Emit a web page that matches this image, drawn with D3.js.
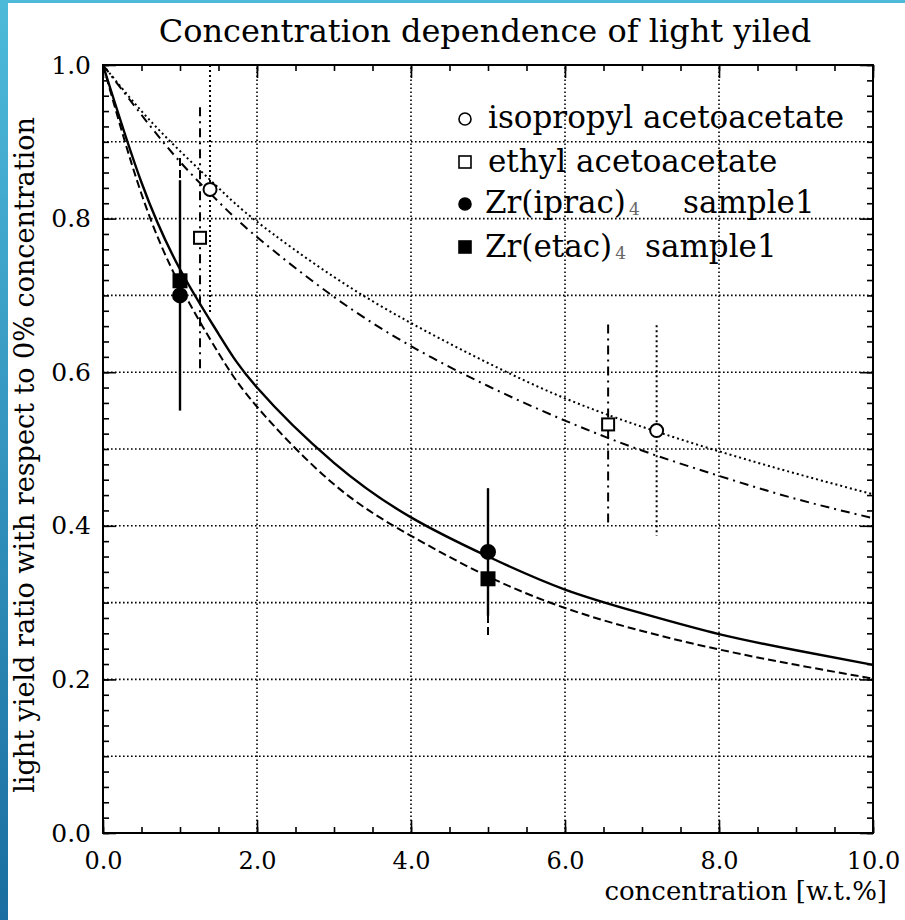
<!DOCTYPE html>
<html>
<head>
<meta charset="utf-8">
<script src="https://cdn.jsdelivr.net/npm/d3@7"></script>
<style>
  body { margin: 0; background: #ffffff; }
  svg { display: block; }
</style>
</head>
<body>
<div id="chart"></div>
<script>
// Concentration dependence of light yield - fitted curves + measured points

// curve samples (x in w.t.%)
const curveX     = [0, 0.5, 1, 1.5, 2, 3, 4, 5, 6, 7, 8, 9, 10];
const isoCurve   = [1.0, 0.94, 0.888, 0.84, 0.796, 0.724, 0.664, 0.612, 0.566, 0.529, 0.497, 0.468, 0.441];
const ethylCurve = [1.0, 0.935, 0.874, 0.822, 0.776, 0.698, 0.634, 0.582, 0.537, 0.498, 0.465, 0.435, 0.41];
const ipracCurve = [1.0, 0.847, 0.734, 0.65, 0.58, 0.482, 0.411, 0.36, 0.317, 0.286, 0.259, 0.238, 0.219];
const etacCurve  = [1.0, 0.832, 0.713, 0.625, 0.555, 0.454, 0.387, 0.334, 0.293, 0.263, 0.239, 0.219, 0.201];

// measured points and their error half-widths
const isoX   = [1.39, 7.19], isoY   = [0.838, 0.524], isoErr   = [0.162, 0.137];
const ethylX = [1.26, 6.56], ethylY = [0.775, 0.532], ethylErr = [0.17, 0.13];
const ipracX = [1.0, 5.0],   ipracY = [0.70, 0.366],  ipracErr = [0.15, 0.083];
const etacX  = [1.0, 5.0],   etacY  = [0.719, 0.331], etacErr  = [0.16, 0.078];

const seriesNames = ["isopropyl acetoacetate", "ethyl acetoacetate", "Zr(iprac)", "Zr(etac)"];

const xTickValues = [0, 2, 4, 6, 8, 10];
const xTickLabels = ["0.0", "2.0", "4.0", "6.0", "8.0", "10.0"];
const yTickValues = [0, 0.2, 0.4, 0.6, 0.8, 1.0];
const yTickLabels = ["0.0", "0.2", "0.4", "0.6", "0.8", "1.0"];

const W = 905, H = 920;
const margin = {top: 65, right: 32, bottom: 87, left: 103};
const serif = "'DejaVu Serif', 'Liberation Serif', serif";

const svg = d3.select("#chart").append("svg")
    .attr("width", W)
    .attr("height", H)
    .style("background-color", "#ffffff");

// slide frame (blue strip on the left and top)
const defs = svg.append("defs");
const grad = defs.append("linearGradient")
    .attr("id", "frameGrad")
    .attr("x1", 0).attr("y1", 0).attr("x2", 0).attr("y2", 1);
grad.append("stop").attr("offset", "0%").attr("stop-color", "#4dbada");
grad.append("stop").attr("offset", "100%").attr("stop-color", "#1a6ea1");
svg.append("rect").attr("x", 0).attr("y", 0).attr("width", W).attr("height", 3).attr("fill", "#4dbada");
svg.append("rect").attr("x", 0).attr("y", 0).attr("width", 8).attr("height", H).attr("fill", "url(#frameGrad)");

const x = d3.scaleLinear()
    .domain([0, 10])
    .range([margin.left, W - margin.right]);
const y = d3.scaleLinear()
    .domain([0, 1])
    .range([H - margin.bottom, margin.top]);

// dotted grid
const grid = svg.append("g").attr("id", "grid")
    .attr("stroke", "#000")
    .attr("stroke-width", 1.6)
    .attr("stroke-dasharray", "1.6,2.4");
grid.selectAll(".gx")
    .data([2, 4, 6, 8])
    .enter().append("line")
    .attr("x1", d => x(d)).attr("x2", d => x(d))
    .attr("y1", y(0)).attr("y2", y(1));
grid.selectAll(".gy")
    .data(d3.range(1, 10).map(i => i / 10))
    .enter().append("line")
    .attr("x1", x(0)).attr("x2", x(10))
    .attr("y1", d => y(d)).attr("y2", d => y(d));

// inward ticks on all four sides
const xMinor = d3.range(0, 21).map(i => i * 0.5);
const yMinor = d3.range(0, 51).map(i => i * 0.02);
function tickAxis(axis, values, size, tf) {
    const g = svg.append("g")
        .attr("transform", tf)
        .call(axis.tickValues(values).tickSize(size).tickFormat(""));
    g.select(".domain").remove();
    g.selectAll(".tick line").attr("stroke", "#000").attr("stroke-width", 1.6);
    return g;
}
tickAxis(d3.axisBottom(x), xMinor, -6, `translate(0,${y(0)})`);
tickAxis(d3.axisTop(x), xMinor, -6, `translate(0,${y(1)})`);
tickAxis(d3.axisBottom(x), xTickValues, -13, `translate(0,${y(0)})`);
tickAxis(d3.axisTop(x), xTickValues, -13, `translate(0,${y(1)})`);
tickAxis(d3.axisLeft(y), yMinor, -6, `translate(${x(0)},0)`);
tickAxis(d3.axisRight(y), yMinor, -6, `translate(${x(10)},0)`);
tickAxis(d3.axisLeft(y), yTickValues, -13, `translate(${x(0)},0)`);
tickAxis(d3.axisRight(y), yTickValues, -13, `translate(${x(10)},0)`);

// tick labels
const xLab = svg.append("g")
    .attr("transform", `translate(0,${y(0)})`)
    .call(d3.axisBottom(x).tickValues(xTickValues).tickSize(0).tickPadding(19)
        .tickFormat((d, i) => xTickLabels[i]));
xLab.select(".domain").remove();
xLab.selectAll("text").attr("font-family", serif).attr("font-size", 24).attr("fill", "#000");

const yLab = svg.append("g")
    .attr("transform", `translate(${x(0)},0)`)
    .call(d3.axisLeft(y).tickValues(yTickValues).tickSize(0).tickPadding(12)
        .tickFormat((d, i) => yTickLabels[i]));
yLab.select(".domain").remove();
yLab.selectAll("text").attr("font-family", serif).attr("font-size", 25).attr("fill", "#000");

// plot frame
svg.append("rect")
    .attr("x", x(0)).attr("y", y(1))
    .attr("width", x(10) - x(0)).attr("height", y(0) - y(1))
    .attr("fill", "none").attr("stroke", "#000").attr("stroke-width", 2);

// series
const series = [
    {name: seriesNames[0], curve: isoCurve,   px: isoX,   py: isoY,   err: isoErr,   dash: "2,3",     marker: "circle", fill: "#fff"},
    {name: seriesNames[1], curve: ethylCurve, px: ethylX, py: ethylY, err: ethylErr, dash: "9,5,2,5", marker: "square", fill: "#fff"},
    {name: seriesNames[2], curve: ipracCurve, px: ipracX, py: ipracY, err: ipracErr, dash: null,      marker: "circle", fill: "#000"},
    {name: seriesNames[3], curve: etacCurve,  px: etacX,  py: etacY,  err: etacErr,  dash: "8,4",     marker: "square", fill: "#000"}
];

const line = d3.line()
    .x(d => x(d[0]))
    .y(d => y(d[1]))
    .curve(d3.curveNatural);

const plot = svg.append("g").attr("id", "plot");

series.forEach(s => {
    plot.append("path")
        .datum(curveX.map((v, i) => [v, s.curve[i]]))
        .attr("d", line)
        .attr("fill", "none")
        .attr("stroke", "#000")
        .attr("stroke-width", s.dash ? 2 : 2.4)
        .attr("stroke-dasharray", s.dash);

    // error bars
    plot.selectAll(null)
        .data(s.px.map((v, i) => ({x: v, y: s.py[i], e: s.err[i]})))
        .enter().append("line")
        .attr("x1", d => x(d.x)).attr("x2", d => x(d.x))
        .attr("y1", d => y(Math.min(1, d.y + d.e)))
        .attr("y2", d => y(d.y - d.e))
        .attr("stroke", "#000")
        .attr("stroke-width", s.dash ? 2 : 2.4)
        .attr("stroke-dasharray", s.dash);
});

function drawMarker(g, type, cx, cy, fill) {
    if (type === "circle") {
        g.append("circle")
            .attr("cx", cx).attr("cy", cy)
            .attr("r", fill === "#000" ? 7 : 6.5)
            .attr("fill", fill)
            .attr("stroke", "#000").attr("stroke-width", 2);
    } else {
        const s = fill === "#000" ? 13 : 12;
        g.append("rect")
            .attr("x", cx - s / 2).attr("y", cy - s / 2)
            .attr("width", s).attr("height", s)
            .attr("fill", fill)
            .attr("stroke", "#000").attr("stroke-width", 2);
    }
}

series.forEach(s => {
    s.px.forEach((v, i) => drawMarker(plot, s.marker, x(v), y(s.py[i]), s.fill));
});

// legend
const legend = svg.append("g").attr("id", "legend")
    .attr("font-family", serif)
    .attr("font-size", 31)
    .attr("fill", "#000");
const legendRows = [
    {y: 128, tx: 488, sx: null},
    {y: 172, tx: 488, sx: null},
    {y: 213, tx: 485, sx: 683},
    {y: 257, tx: 485, sx: 645}
];
series.forEach((s, i) => {
    const r = legendRows[i];
    if (s.marker === "circle") {
        legend.append("circle")
            .attr("cx", 465).attr("cy", r.y - 9)
            .attr("r", 6)
            .attr("fill", s.fill)
            .attr("stroke", "#000").attr("stroke-width", 1.6);
    } else {
        legend.append("rect")
            .attr("x", 459).attr("y", r.y - 16)
            .attr("width", 12).attr("height", 12)
            .attr("fill", s.fill)
            .attr("stroke", "#000").attr("stroke-width", 1.6);
    }
    const t = legend.append("text").attr("x", r.tx).attr("y", r.y).text(s.name);
    if (r.sx) {
        t.append("tspan")
            .attr("font-size", 17)
            .attr("fill", "#666")
            .attr("dx", 3)
            .attr("dy", 2)
            .text("4");
        legend.append("text").attr("x", r.sx).attr("y", r.y).text("sample1");
    }
});

// titles
svg.append("text")
    .attr("x", 485).attr("y", 42)
    .attr("text-anchor", "middle")
    .attr("font-family", serif).attr("font-size", 32)
    .text("Concentration dependence of light yiled");

svg.append("text")
    .attr("x", 887).attr("y", 900)
    .attr("text-anchor", "end")
    .attr("font-family", serif).attr("font-size", 26)
    .text("concentration [w.t.%]");

svg.append("text")
    .attr("transform", "translate(34,455) rotate(-90)")
    .attr("text-anchor", "middle")
    .attr("font-family", serif).attr("font-size", 27)
    .text("light yield ratio with respect to 0% concentration");
</script>
</body>
</html>
